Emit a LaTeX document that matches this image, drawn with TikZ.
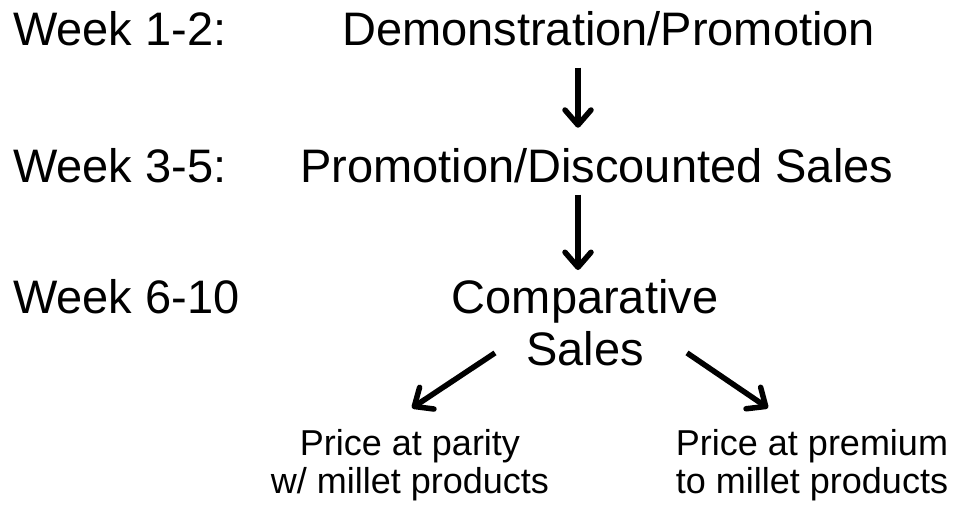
\documentclass[tikz,border=0pt]{standalone}
\usepackage{fontspec}
\setmainfont{Liberation Sans}
\usetikzlibrary{arrows.meta}
\tikzset{big/.style={inner sep=0pt, font=\fontsize{47}{52}\selectfont},
         small/.style={inner sep=0pt, align=center, font=\fontsize{36}{38}\selectfont},
         arr/.style={line width=5.5pt, -{Straight Barb[length=15pt, width=26pt, round]}}}

\begin{document}
\begin{tikzpicture}[x=1pt, y=-1pt]
            \useasboundingbox (0,0) rectangle (957,504);
            \node[big, anchor=base west] (w1) at (13,45) {Week 1-2:};
            \node[big, anchor=base west] (w2) at (13,182) {Week 3-5:};
            \node[big, anchor=base west] (w3) at (13,313) {Week 6-10};

            \node[big, anchor=base west] (demo) at (342,45) {Demonstration/Promotion};
            \node[big, anchor=base west] (promo) at (300,182) {Promotion/Discounted Sales};
            \node[big, anchor=north, align=center] (comp) at (585,279) {Comparative\\Sales};

            \node[small, anchor=north] (parity) at (410,429) {Price at parity\\w/ millet products};
            \node[small, anchor=north] (premium) at (812,429) {Price at premium\\to millet products};

            \draw[arr, shorten <=22pt, shorten >=20pt] (demo.south -| 578,0) -- (promo.north -| 578,0);
            \draw[arr, shorten <=12pt, shorten >=9pt] (promo.south -| 578,0) -- (comp.north -| 578,0);
            \draw[arr] ([shift={(-90pt,13pt)}]comp.south) -- ([shift={(2pt,21pt)}]parity.north);
            \draw[arr] ([shift={(102pt,13pt)}]comp.south) -- ([shift={(-44pt,21pt)}]premium.north);
        \end{tikzpicture}
\end{document}
